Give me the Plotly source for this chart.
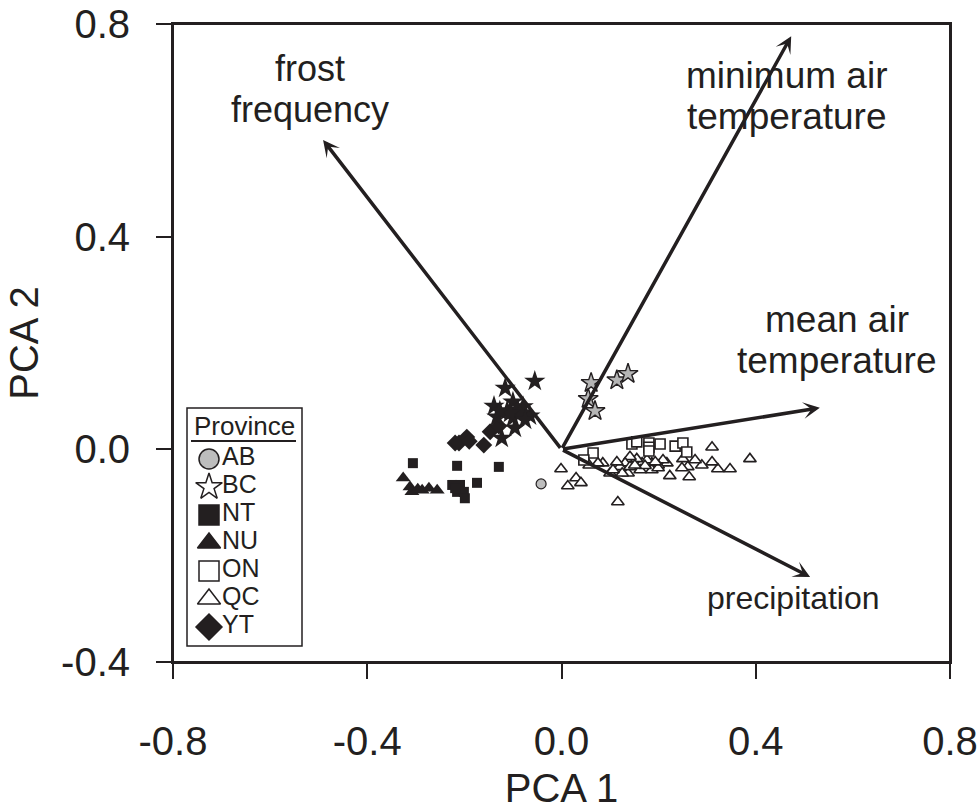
import plotly.graph_objects as go

# ---------------- data ----------------
x_ticks = [-0.8, -0.4, 0.0, 0.4, 0.8]
x_tick_labels = ["-0.8", "-0.4", "0.0", "0.4", "0.8"]
y_ticks = [-0.4, 0.0, 0.4, 0.8]
y_tick_labels = ["-0.4", "0.0", "0.4", "0.8"]

ab_x = [-0.042]
ab_y = [-0.065]

bc_x = [0.061, 0.114, 0.137, 0.055, 0.069]
bc_y = [0.125, 0.130, 0.142, 0.095, 0.072]

dark_star_x = [-0.055, -0.116, -0.139, -0.100, -0.090, -0.112, -0.079, -0.065,
               -0.133, -0.100, -0.096, -0.123, -0.085, -0.106, -0.127, -0.075]
dark_star_y = [0.128, 0.115, 0.081, 0.089, 0.074, 0.072, 0.080, 0.063,
               0.061, 0.059, 0.040, 0.021, 0.068, 0.068, 0.072, 0.055]

nt_x = [-0.306, -0.215, -0.129, -0.225, -0.209, -0.174, -0.215, -0.201, -0.199, -0.219]
nt_y = [-0.026, -0.031, -0.033, -0.067, -0.067, -0.063, -0.080, -0.080, -0.092, -0.073]

nu_x = [-0.326, -0.312, -0.308, -0.287, -0.273, -0.256, -0.296]
nu_y = [-0.054, -0.071, -0.080, -0.077, -0.073, -0.077, -0.075]

on_x = [0.065, 0.046, 0.145, 0.155, 0.180, 0.180, 0.180, 0.203, 0.234, 0.250, 0.258]
on_y = [-0.007, -0.020, 0.010, 0.014, 0.012, 0.004, -0.003, 0.010, 0.006, 0.012, -0.005]

qc_x = [-0.001, 0.030, 0.013, 0.040, 0.116, 0.310, 0.388, 0.347, 0.322, 0.310,
        0.289, 0.275, 0.260, 0.250, 0.223, 0.263, 0.248, 0.217, 0.209, 0.199,
        0.186, 0.176, 0.166, 0.155, 0.141, 0.131, 0.120, 0.114, 0.100, 0.085,
        0.075, 0.057, 0.137, 0.125, 0.186, 0.141, 0.106, 0.199, 0.162, 0.172,
        0.151, 0.193]
qc_y = [-0.037, -0.054, -0.069, -0.063, -0.099, 0.004, -0.018, -0.037, -0.037, -0.024,
        -0.030, -0.020, -0.033, -0.018, -0.050, -0.052, -0.035, -0.026, -0.020, -0.030,
        -0.026, -0.020, -0.026, -0.018, -0.014, -0.026, -0.033, -0.024, -0.045, -0.026,
        -0.026, -0.030, -0.045, -0.045, -0.039, -0.033, -0.039, -0.035, -0.039, -0.031,
        -0.030, -0.024]

yt_x = [-0.219, -0.211, -0.195, -0.190, -0.160, -0.147, -0.129]
yt_y = [0.012, 0.012, 0.023, 0.015, 0.008, 0.033, 0.044]

arrow_names = ["frost\nfrequency", "minimum air\ntemperature", "mean air\ntemperature", "precipitation"]
arrow_x = [-0.491, 0.473, 0.532, 0.512]
arrow_y = [0.582, 0.777, 0.078, -0.240]
label_x = [-0.518, 0.464, 0.567, 0.477]
label_y = [0.678, 0.664, 0.206, -0.280]
label_size = [36, 37, 37, 32]

legend_names = ["AB", "BC", "NT", "NU", "ON", "QC", "YT"]
legend_symbols = ["circle", "star", "square", "triangle-up", "square", "triangle-up", "diamond"]
legend_fills = ["#bdbdbd", "white", "#231f20", "#231f20", "white", "white", "#231f20"]

# ---------------- style ----------------
INK = "#231f20"
FONT = "Liberation Sans, Arial, sans-serif"
W, H = 977, 810
PL, PR, PT, PB = 173, 950, 24, 662   # plot frame in page pixels
L, T, R, B = PL, PT, W - PR, H - PB
PW, PH = PR - PL, PB - PT


def fx(px):
    return (px - PL) / PW


def fy(py):
    return (PB - py) / PH


fig = go.Figure()


def add_pts(x, y, symbol, fill, size, lw, name):
    fig.add_trace(go.Scatter(
        x=x, y=y, mode="markers", name=name, showlegend=False,
        marker=dict(symbol=symbol, size=size, color=fill,
                    line=dict(color=INK, width=lw)),
        xaxis="x", yaxis="y"))


add_pts(qc_x, qc_y, "triangle-up", "white", 11, 1.6, "QC")
add_pts(on_x, on_y, "square", "white", 10, 1.6, "ON")
add_pts(nt_x, nt_y, "square", INK, 10, 0, "NT")
add_pts(nu_x, nu_y, "triangle-up", INK, 13, 0, "NU")
add_pts(yt_x, yt_y, "diamond", INK, 13, 0, "YT")
add_pts(dark_star_x, dark_star_y, "star", INK, 16, 0, "stars")
add_pts(bc_x, bc_y, "star", "#b5b5b5", 15, 1.4, "BC")
add_pts(ab_x, ab_y, "circle", "#bdbdbd", 10, 1.2, "AB")

# arrows
for ax_, ay_ in zip(arrow_x, arrow_y):
    fig.add_annotation(x=ax_, y=ay_, ax=0, ay=0, xref="x", yref="y",
                       axref="x", ayref="y", text="", showarrow=True,
                       arrowhead=3, arrowsize=0.8, arrowwidth=3.5,
                       arrowcolor=INK, standoff=0, startstandoff=0)

# arrow labels (one annotation per line)
for name, lx, ly, fs in zip(arrow_names, label_x, label_y, label_size):
    lines = name.split("\n")
    n = len(lines)
    spacing = 41
    for i, line in enumerate(lines):
        fig.add_annotation(x=lx, y=ly, xref="x", yref="y", text=line,
                           showarrow=False, xanchor="center", yanchor="middle",
                           yshift=((n - 1) / 2 - i) * spacing,
                           font=dict(family=FONT, size=fs, color=INK))

# plot frame (explicit, on top)
fig.add_shape(type="rect", xref="paper", yref="paper", x0=0, x1=1, y0=0, y1=1,
              line=dict(color=INK, width=2), layer="above")

# custom legend box
box_l, box_r, box_t, box_b = 187, 302, 408, 646
fig.add_shape(type="rect", xref="paper", yref="paper",
              x0=fx(box_l), x1=fx(box_r), y0=fy(box_b), y1=fy(box_t),
              line=dict(color=INK, width=1.5), fillcolor="white", layer="below")
fig.add_annotation(x=fx(244), y=fy(426), xref="paper", yref="paper",
                   text="Province", showarrow=False, xanchor="center",
                   yanchor="middle", font=dict(family=FONT, size=26, color=INK))
fig.add_shape(type="line", xref="paper", yref="paper",
              x0=fx(191), x1=fx(296), y0=fy(441), y1=fy(441),
              line=dict(color=INK, width=2), layer="above")

row0, step = 459, 28
leg_y = [fy(row0 + i * step) for i in range(len(legend_names))]
fig.add_trace(go.Scatter(
    x=[fx(209)] * len(legend_names), y=leg_y, mode="markers", showlegend=False,
    marker=dict(symbol=legend_symbols, size=20, color=legend_fills,
                line=dict(color=INK, width=1.5)),
    xaxis="x2", yaxis="y2", cliponaxis=False))
fig.add_trace(go.Scatter(
    x=[fx(222)] * len(legend_names), y=leg_y, mode="text", showlegend=False,
    text=legend_names, textposition="middle right",
    textfont=dict(family=FONT, size=25, color=INK),
    xaxis="x2", yaxis="y2", cliponaxis=False))

axis_common = dict(showline=True, linecolor=INK, linewidth=2, mirror=True,
                   ticks="outside", ticklen=15, tickwidth=1.5, tickcolor=INK,
                   showgrid=False, zeroline=False, automargin=False,
                   ticklabeloverflow="allow",
                   tickfont=dict(family=FONT, size=40, color=INK))

fig.update_layout(
    width=W, height=H,
    margin=dict(l=L, r=R, t=T, b=B, autoexpand=False),
    paper_bgcolor="white", plot_bgcolor="white",
    showlegend=False,
    xaxis=dict(range=[-0.8, 0.8], tickvals=x_ticks, ticktext=x_tick_labels,
               ticklabelstandoff=28,
               title=dict(text="PCA 1", standoff=14,
                          font=dict(family=FONT, size=40, color=INK)),
               **axis_common),
    yaxis=dict(range=[-0.4, 0.8], tickvals=y_ticks, ticktext=y_tick_labels,
               ticklabelstandoff=18,
               title=dict(text="PCA 2", standoff=10,
                          font=dict(family=FONT, size=40, color=INK)),
               **axis_common),
    xaxis2=dict(range=[0, 1], overlaying="x", visible=False, anchor="y2"),
    yaxis2=dict(range=[0, 1], overlaying="y", visible=False, anchor="x2"),
)

# remove the default 8px page margin so the figure fills the window exactly
fig.write_html("out.html", config={"displayModeBar": False},
               post_script="document.body.style.margin='0px';")
